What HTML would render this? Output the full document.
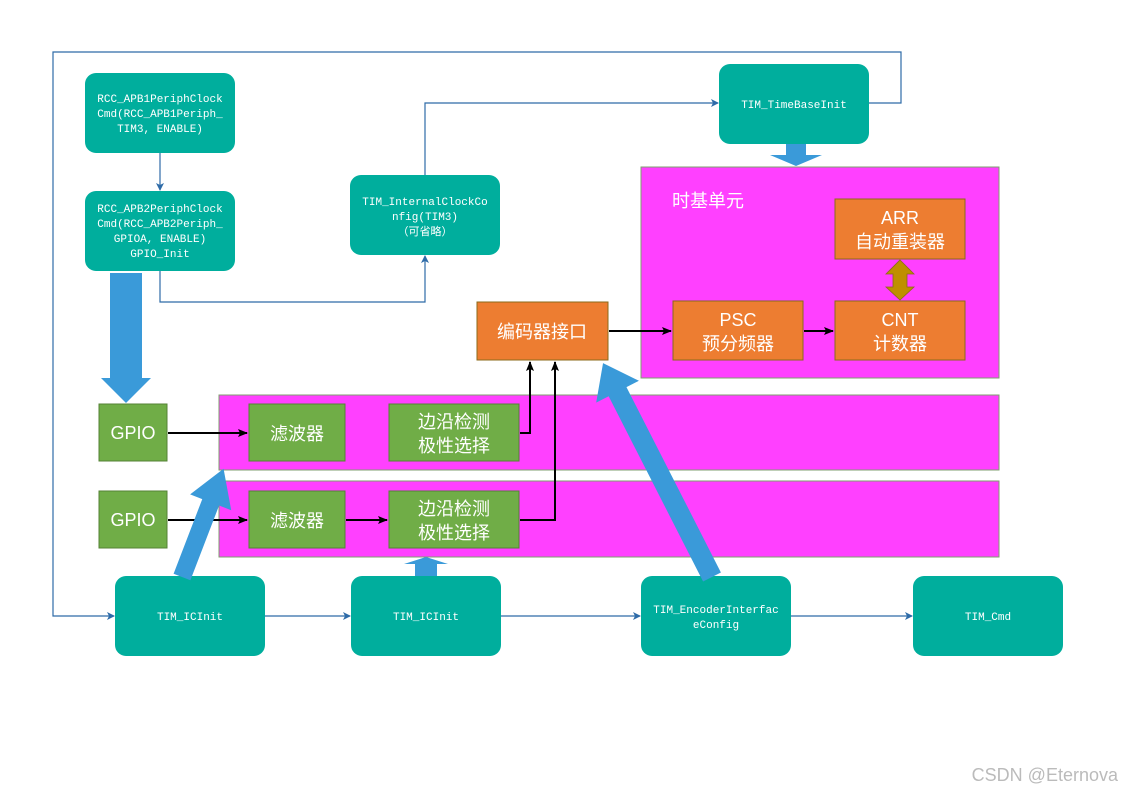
<!DOCTYPE html>
<html><head><meta charset="utf-8"><style>
html,body{margin:0;padding:0;background:#fff;}
svg{display:block;}
.m{font-family:"Liberation Mono","Noto Sans CJK SC",monospace;font-size:11px;fill:#fff;}
.c{font-family:"Liberation Sans","Noto Sans CJK SC",sans-serif;font-size:18px;fill:#fff;}
</style></head><body>
<svg width="1123" height="794" viewBox="0 0 1123 794" xmlns="http://www.w3.org/2000/svg">
<defs>
<marker id="ab" markerWidth="8" markerHeight="8" refX="7" refY="4" orient="auto" markerUnits="userSpaceOnUse"><path d="M0,0 L8,4 L0,8 L2,4z" fill="#2E6BA8"/></marker>
<marker id="ak" markerWidth="10" markerHeight="10" refX="9" refY="5" orient="auto" markerUnits="userSpaceOnUse"><path d="M0,1 L10,5 L0,9 L2,5z" fill="#000"/></marker>
</defs>
<rect x="641" y="167" width="358" height="211" fill="#FF40FF" stroke="#7F9F6F" stroke-width="1"/>
<rect x="219" y="395" width="780" height="75" fill="#FF40FF" stroke="#7F9F6F" stroke-width="1"/>
<rect x="219" y="481" width="780" height="76" fill="#FF40FF" stroke="#7F9F6F" stroke-width="1"/>
<text x="672" y="207" class="c">时基单元</text>

<g fill="none" stroke="#2E6BA8" stroke-width="1.2">
<polyline points="869,103 901,103 901,52 53,52 53,616 114,616" marker-end="url(#ab)"/>
<line x1="160" y1="153" x2="160" y2="190" marker-end="url(#ab)"/>
<polyline points="160,271 160,302 425,302 425,256" marker-end="url(#ab)"/>
<polyline points="425,175 425,103 718,103" marker-end="url(#ab)"/>
<line x1="265" y1="616" x2="350" y2="616" marker-end="url(#ab)"/>
<line x1="501" y1="616" x2="640" y2="616" marker-end="url(#ab)"/>
<line x1="791" y1="616" x2="912" y2="616" marker-end="url(#ab)"/>
</g>

<g fill="#00AE9D">
<rect x="85" y="73" width="150" height="80" rx="11"/>
<rect x="85" y="191" width="150" height="80" rx="11"/>
<rect x="350" y="175" width="150" height="80" rx="11"/>
<rect x="719" y="64" width="150" height="80" rx="11"/>
<rect x="115" y="576" width="150" height="80" rx="11"/>
<rect x="351" y="576" width="150" height="80" rx="11"/>
<rect x="641" y="576" width="150" height="80" rx="11"/>
<rect x="913" y="576" width="150" height="80" rx="11"/>
</g>
<g class="m" text-anchor="middle">
<text x="160" y="102">RCC_APB1PeriphClock</text>
<text x="160" y="117">Cmd(RCC_APB1Periph_</text>
<text x="160" y="132">TIM3, ENABLE)</text>
<text x="160" y="212">RCC_APB2PeriphClock</text>
<text x="160" y="227">Cmd(RCC_APB2Periph_</text>
<text x="160" y="242">GPIOA, ENABLE)</text>
<text x="160" y="257">GPIO_Init</text>
<text x="425" y="205">TIM_InternalClockCo</text>
<text x="425" y="220">nfig(TIM3)</text>
<text x="425" y="235">（可省略）</text>
<text x="794" y="108">TIM_TimeBaseInit</text>
<text x="190" y="620">TIM_ICInit</text>
<text x="426" y="620">TIM_ICInit</text>
<text x="716" y="613">TIM_EncoderInterfac</text>
<text x="716" y="628">eConfig</text>
<text x="988" y="620">TIM_Cmd</text>
</g>

<g fill="#ED7D31" stroke="#8B6A1A" stroke-width="1">
<rect x="477" y="302" width="131" height="58"/>
<rect x="673" y="301" width="130" height="59"/>
<rect x="835" y="301" width="130" height="59"/>
<rect x="835" y="199" width="130" height="60"/>
</g>
<g class="c" text-anchor="middle">
<text x="542" y="338">编码器接口</text>
<text x="738" y="326">PSC</text>
<text x="738" y="350">预分频器</text>
<text x="900" y="326">CNT</text>
<text x="900" y="350">计数器</text>
<text x="900" y="224">ARR</text>
<text x="900" y="248">自动重装器</text>
</g>
<polygon points="900,260 914,274 907,274 907,287 914,287 900,300 886,287 893,287 893,274 886,274" fill="#BF8F00" stroke="#8B6A1A" stroke-width="0.8"/>

<g fill="#70AD47" stroke="#548235" stroke-width="1">
<rect x="99" y="404" width="68" height="57"/>
<rect x="99" y="491" width="68" height="57"/>
<rect x="249" y="404" width="96" height="57"/>
<rect x="249" y="491" width="96" height="57"/>
<rect x="389" y="404" width="130" height="57"/>
<rect x="389" y="491" width="130" height="57"/>
</g>
<g class="c" text-anchor="middle">
<text x="133" y="439">GPIO</text>
<text x="133" y="526">GPIO</text>
<text x="297" y="440">滤波器</text>
<text x="297" y="527">滤波器</text>
<text x="454" y="428">边沿检测</text>
<text x="454" y="452">极性选择</text>
<text x="454" y="515">边沿检测</text>
<text x="454" y="539">极性选择</text>
</g>

<g fill="none" stroke="#000" stroke-width="2">
<line x1="168" y1="433" x2="247" y2="433" marker-end="url(#ak)"/>
<line x1="168" y1="520" x2="247" y2="520" marker-end="url(#ak)"/>
<line x1="346" y1="520" x2="387" y2="520" marker-end="url(#ak)"/>
<polyline points="520,433 530,433 530,362" marker-end="url(#ak)"/>
<polyline points="520,520 555,520 555,362" marker-end="url(#ak)"/>
<line x1="609" y1="331" x2="671" y2="331" marker-end="url(#ak)"/>
<line x1="804" y1="331" x2="833" y2="331" marker-end="url(#ak)"/>
</g>

<g fill="#3A9AD9">
<polygon points="110,273 142,273 142,378 151,378 126,403 101,378 110,378"/>
<polygon points="786,144 806,144 806,155 822,155 796,166 770,155 786,155"/>
<polygon points="415,576 437,576 437,564 448,564 426,557 404,564 415,564"/>
<polygon transform="translate(182,577) rotate(-69)" points="0,-9 80,-9 80,-22 116,0 80,22 80,9 0,9"/>
<polygon transform="translate(712,577) rotate(-117)" points="0,-10 208,-10 208,-24 240,0 208,24 208,10 0,10"/>
</g>

<text x="1118" y="781" text-anchor="end" font-family="Liberation Sans, sans-serif" font-size="18" fill="#bbb">CSDN @Eternova</text>
</svg>
</body></html>
